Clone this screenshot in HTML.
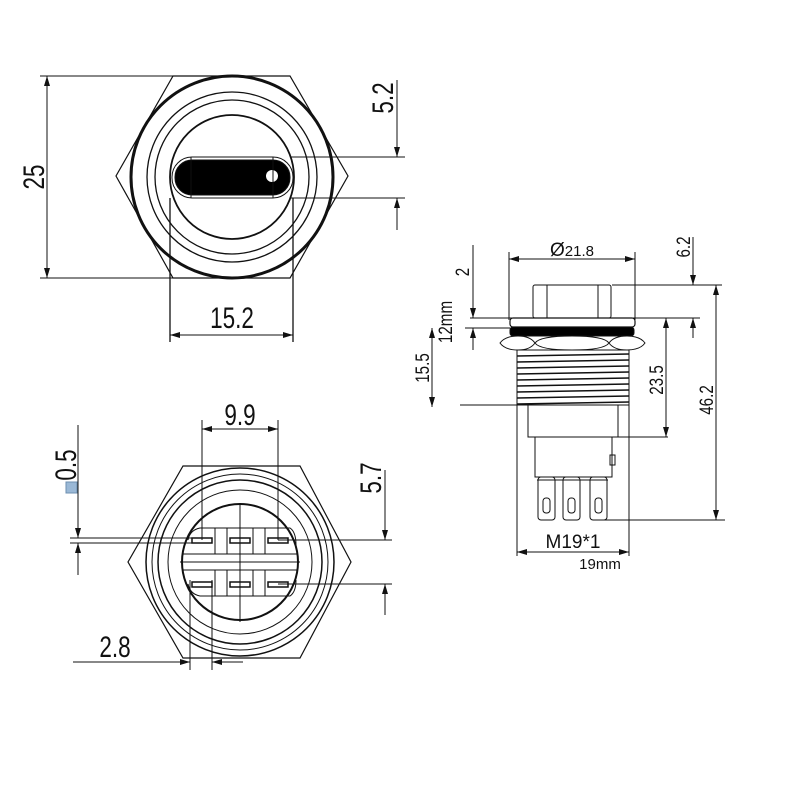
<!DOCTYPE html>
<html><head><meta charset="utf-8"><style>
html,body{margin:0;padding:0;background:#fff}
svg{display:block}
text{font-family:"Liberation Sans",sans-serif;fill:#111}
</style></head><body>
<svg width="800" height="800" viewBox="0 0 800 800" xmlns="http://www.w3.org/2000/svg">
<defs>
<marker id="a" viewBox="0 0 10 6" refX="10" refY="3" markerWidth="10" markerHeight="6" orient="auto-start-reverse" markerUnits="userSpaceOnUse"><path d="M0,0 L10,3 L0,6 z" fill="#111"/></marker>
</defs>
<g stroke="#111" fill="none" stroke-width="1">
<!-- TOP VIEW -->
<polygon points="173,76 290,76 348,176 290,278 173,278 116,176" stroke-width="1.2"/>
<circle cx="232" cy="177" r="101" stroke-width="3"/>
<circle cx="232" cy="177" r="85" stroke-width="1.3"/>
<circle cx="232" cy="177" r="77" stroke-width="1.3"/>
<circle cx="232" cy="177" r="62" stroke-width="1.8"/>
<rect x="172" y="157" width="121" height="41" rx="20" fill="#fff"/>
<rect x="175" y="160" width="115" height="35" rx="17" fill="#000"/>
<circle cx="272" cy="176" r="6" fill="#fff" stroke="none"/>
<line x1="191" y1="157" x2="191" y2="198"/><line x1="273" y1="157" x2="273" y2="198"/>
<!-- dims -->
<line x1="40" y1="76" x2="290" y2="76"/><line x1="40" y1="278" x2="290" y2="278"/>
<line x1="47" y1="76" x2="47" y2="278" marker-start="url(#a)" marker-end="url(#a)"/>
<line x1="170" y1="198" x2="170" y2="342" stroke-width="1.3"/><line x1="293" y1="198" x2="293" y2="342" stroke-width="1.3"/>
<line x1="170" y1="335" x2="293" y2="335" marker-start="url(#a)" marker-end="url(#a)"/>
<line x1="290" y1="157" x2="405" y2="157"/><line x1="290" y1="198" x2="405" y2="198"/>
<line x1="397" y1="80" x2="397" y2="157" marker-end="url(#a)"/>
<line x1="397" y1="230" x2="397" y2="198" marker-end="url(#a)"/>

<!-- SIDE VIEW -->
<line x1="509" y1="252" x2="509" y2="320"/><line x1="635" y1="252" x2="635" y2="320"/>
<line x1="509" y1="259" x2="635" y2="259" marker-start="url(#a)" marker-end="url(#a)"/>
<rect x="533" y="285" width="78" height="33" rx="2"/>
<line x1="547" y1="285" x2="547" y2="318"/><line x1="598" y1="285" x2="598" y2="318"/>
<rect x="510" y="318" width="125" height="9" rx="3" stroke-width="1.2"/>
<rect x="510" y="327" width="124" height="9" rx="3" fill="#000"/>
<path d="M500,343 Q505,336 518,336 Q530,336 535,343 Q530,350 518,350 Q505,350 500,343 Z"/>
<path d="M535,343 Q540,336 572,336 Q604,336 609,343 Q604,350 572,350 Q540,350 535,343 Z"/>
<path d="M609,343 Q614,336 627,336 Q640,336 645,343 Q640,350 627,350 Q614,350 609,343 Z"/>
<rect x="517" y="350" width="112" height="55"/>
<g stroke-width="1.6">
<line x1="517" y1="356" x2="629" y2="354"/><line x1="517" y1="362" x2="629" y2="360"/>
<line x1="517" y1="368" x2="629" y2="366"/><line x1="517" y1="374" x2="629" y2="372"/>
<line x1="517" y1="380" x2="629" y2="378"/><line x1="517" y1="386" x2="629" y2="384"/>
<line x1="517" y1="392" x2="629" y2="390"/><line x1="517" y1="398" x2="629" y2="396"/>
<line x1="517" y1="404" x2="629" y2="402"/>
</g>
<rect x="528" y="405" width="90" height="32"/>
<rect x="535" y="437" width="77" height="40"/>
<rect x="610" y="455" width="5" height="10"/>
<rect x="538" y="477" width="17" height="43" rx="3"/><rect x="543" y="498" width="7" height="15" rx="3"/>
<rect x="563" y="477" width="17" height="43" rx="3"/><rect x="568" y="498" width="7" height="15" rx="3"/>
<rect x="590" y="477" width="17" height="43" rx="3"/><rect x="595" y="498" width="7" height="15" rx="3"/>
<line x1="537" y1="480" x2="608" y2="480"/>
<line x1="517" y1="405" x2="517" y2="556"/><line x1="629" y1="405" x2="629" y2="556"/>
<line x1="517" y1="552" x2="629" y2="552" marker-start="url(#a)" marker-end="url(#a)"/>
<line x1="612" y1="285" x2="722" y2="285"/><line x1="470" y1="318" x2="700" y2="318"/>
<line x1="693" y1="237" x2="693" y2="285" marker-end="url(#a)"/>
<line x1="693" y1="338" x2="693" y2="318" marker-end="url(#a)"/>
<line x1="716" y1="285" x2="716" y2="520" marker-start="url(#a)" marker-end="url(#a)"/>
<line x1="602" y1="520" x2="725" y2="520"/>
<line x1="666" y1="318" x2="666" y2="437" marker-start="url(#a)" marker-end="url(#a)"/>
<line x1="618" y1="437" x2="668" y2="437"/>
<line x1="473" y1="245" x2="473" y2="318" marker-end="url(#a)"/>
<line x1="473" y1="350" x2="473" y2="328" marker-end="url(#a)"/>
<line x1="465" y1="328" x2="510" y2="328"/>
<line x1="432" y1="328" x2="432" y2="407" marker-start="url(#a)" marker-end="url(#a)"/>
<line x1="460" y1="405" x2="517" y2="405"/>

<!-- BOTTOM VIEW -->
<polygon points="183,466 300,466 351,562 300,658 183,658 128,562" stroke-width="1.2"/>
<circle cx="240" cy="562" r="94" stroke-width="1.5"/>
<circle cx="240" cy="562" r="88"/>
<circle cx="240" cy="562" r="82" stroke-width="1.5"/>
<circle cx="240" cy="562" r="72"/>
<circle cx="240" cy="562" r="58" stroke-width="2"/>
<path d="M188,540 Q190,530 200,528 L290,528 Q296,532 296,545" />
<path d="M188,584 Q190,594 200,596 L290,596 Q296,592 296,580" />
<line x1="183" y1="554" x2="297" y2="554"/><line x1="183" y1="570" x2="297" y2="570"/>
<rect x="215" y="528" width="12" height="26"/><rect x="253" y="528" width="12" height="26"/>
<rect x="215" y="570" width="12" height="26"/><rect x="253" y="570" width="12" height="26"/>
<rect x="192" y="538" width="20" height="5" stroke-width="1.5"/>
<rect x="230" y="538" width="20" height="5" stroke-width="1.5"/>
<rect x="268" y="538" width="20" height="5" stroke-width="1.5"/>
<rect x="192" y="582" width="20" height="5" stroke-width="1.5"/>
<rect x="230" y="582" width="20" height="5" stroke-width="1.5"/>
<rect x="268" y="582" width="20" height="5" stroke-width="1.5"/>
<line x1="180" y1="562" x2="300" y2="562"/>
<line x1="240" y1="503" x2="240" y2="622"/>
<line x1="202" y1="420" x2="202" y2="540"/><line x1="278" y1="420" x2="278" y2="540"/>
<line x1="202" y1="429" x2="278" y2="429" marker-start="url(#a)" marker-end="url(#a)"/>
<line x1="278" y1="540" x2="392" y2="540"/><line x1="278" y1="584" x2="392" y2="584"/>
<line x1="385" y1="470" x2="385" y2="540" marker-end="url(#a)"/>
<line x1="385" y1="615" x2="385" y2="584" marker-end="url(#a)"/>
<line x1="70" y1="538" x2="200" y2="538"/><line x1="70" y1="543" x2="200" y2="543"/>
<line x1="78" y1="425" x2="78" y2="538" marker-end="url(#a)"/>
<line x1="78" y1="575" x2="78" y2="543" marker-end="url(#a)"/>
<line x1="190" y1="580" x2="190" y2="670"/><line x1="212" y1="580" x2="212" y2="670"/>
<line x1="73" y1="662" x2="190" y2="662" marker-end="url(#a)"/>
<line x1="243" y1="662" x2="212" y2="662" marker-end="url(#a)"/>
</g>
<rect x="66" y="482" width="11" height="11" fill="#9ab8d6" stroke="#6d8fb0"/>

<!-- TEXT -->
<g font-size="30">
<text transform="translate(44,177) rotate(-90) scale(0.75,1)" text-anchor="middle">25</text>
<text transform="translate(232,328) scale(0.75,1)" text-anchor="middle">15.2</text>
<text transform="translate(393,98) rotate(-90) scale(0.75,1)" text-anchor="middle">5.2</text>
<text transform="translate(240,425) scale(0.75,1)" text-anchor="middle">9.9</text>
<text transform="translate(381,478) rotate(-90) scale(0.75,1)" text-anchor="middle">5.7</text>
<text transform="translate(76,465) rotate(-90) scale(0.75,1)" text-anchor="middle">0.5</text>
<text transform="translate(115,657) scale(0.75,1)" text-anchor="middle">2.8</text>
</g>
<g font-size="19">
<text x="572" y="256" text-anchor="middle">Ø<tspan font-size="15">21.8</tspan></text>
<text transform="translate(690,247) rotate(-90) scale(0.8,1)" text-anchor="middle">6.2</text>
<text transform="translate(469,272) rotate(-90) scale(0.8,1)" text-anchor="middle">2</text>
<text transform="translate(452,322) rotate(-90) scale(0.8,1)" text-anchor="middle">12mm</text>
<text transform="translate(429,368) rotate(-90) scale(0.8,1)" text-anchor="middle">15.5</text>
<text transform="translate(663,380) rotate(-90) scale(0.8,1)" text-anchor="middle">23.5</text>
<text transform="translate(713,400) rotate(-90) scale(0.8,1)" text-anchor="middle">46.2</text>
<text x="573" y="548" text-anchor="middle">M19*1</text>
<text x="600" y="569" text-anchor="middle" font-size="15">19mm</text>
</g>
</svg>
</body></html>
